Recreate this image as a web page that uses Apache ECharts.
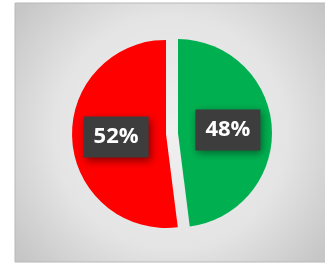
<!DOCTYPE html>
<html><head><meta charset="utf-8">
<script src="https://cdn.jsdelivr.net/npm/echarts@6/dist/echarts.min.js"></script>
<style>html,body{margin:0;padding:0;background:#fff}#c{width:325px;height:266px}</style>
</head><body><div id="c"></div>
<script>
var categories = ['Green', 'Red'];
var values = [48, 52];
var colors = ['#00b050', '#ff0000'];

var chart = echarts.init(document.getElementById('c'), null, {renderer: 'canvas'});
chart.setOption({
  animation: false,
  graphic: [{
    type: 'rect', z: -10, silent: true,
    shape: {x: 15, y: 3, width: 312, height: 259},
    style: {
      fill: new echarts.graphic.RadialGradient(0.5, 0.5, 0.75, [
        {offset: 0, color: '#f0f0f0'},
        {offset: 0.6, color: '#e4e4e4'},
        {offset: 1, color: '#c6c6c6'}
      ]),
      stroke: '#b8b8b8', lineWidth: 1
    }
  }],
  series: [{
    type: 'pie',
    center: [172, 133.5],
    radius: [0, 94],
    startAngle: 90,
    clockwise: true,
    selectedMode: 'multiple',
    selectedOffset: 6,
    label: {
      show: true,
      position: 'inside',
      formatter: '{d}%',
      color: '#ffffff',
      fontFamily: 'Open Sans',
      fontWeight: 'bold',
      fontSize: 22,
      backgroundColor: '#3d3d3d',
      padding: [11, 10, 8, 10],
      shadowColor: 'rgba(0,0,0,0.45)',
      shadowBlur: 8,
      shadowOffsetX: 2,
      shadowOffsetY: 3
    },
    labelLine: {show: false},
    emphasis: {disabled: true},
    itemStyle: {borderWidth: 0},
    data: categories.map(function (c, i) {
      return {name: c, value: values[i], selected: true, itemStyle: {color: colors[i]},
        label: {offset: [i === 0 ? -4 : 2, 0]}};
    })
  }]
});
</script></body></html>
